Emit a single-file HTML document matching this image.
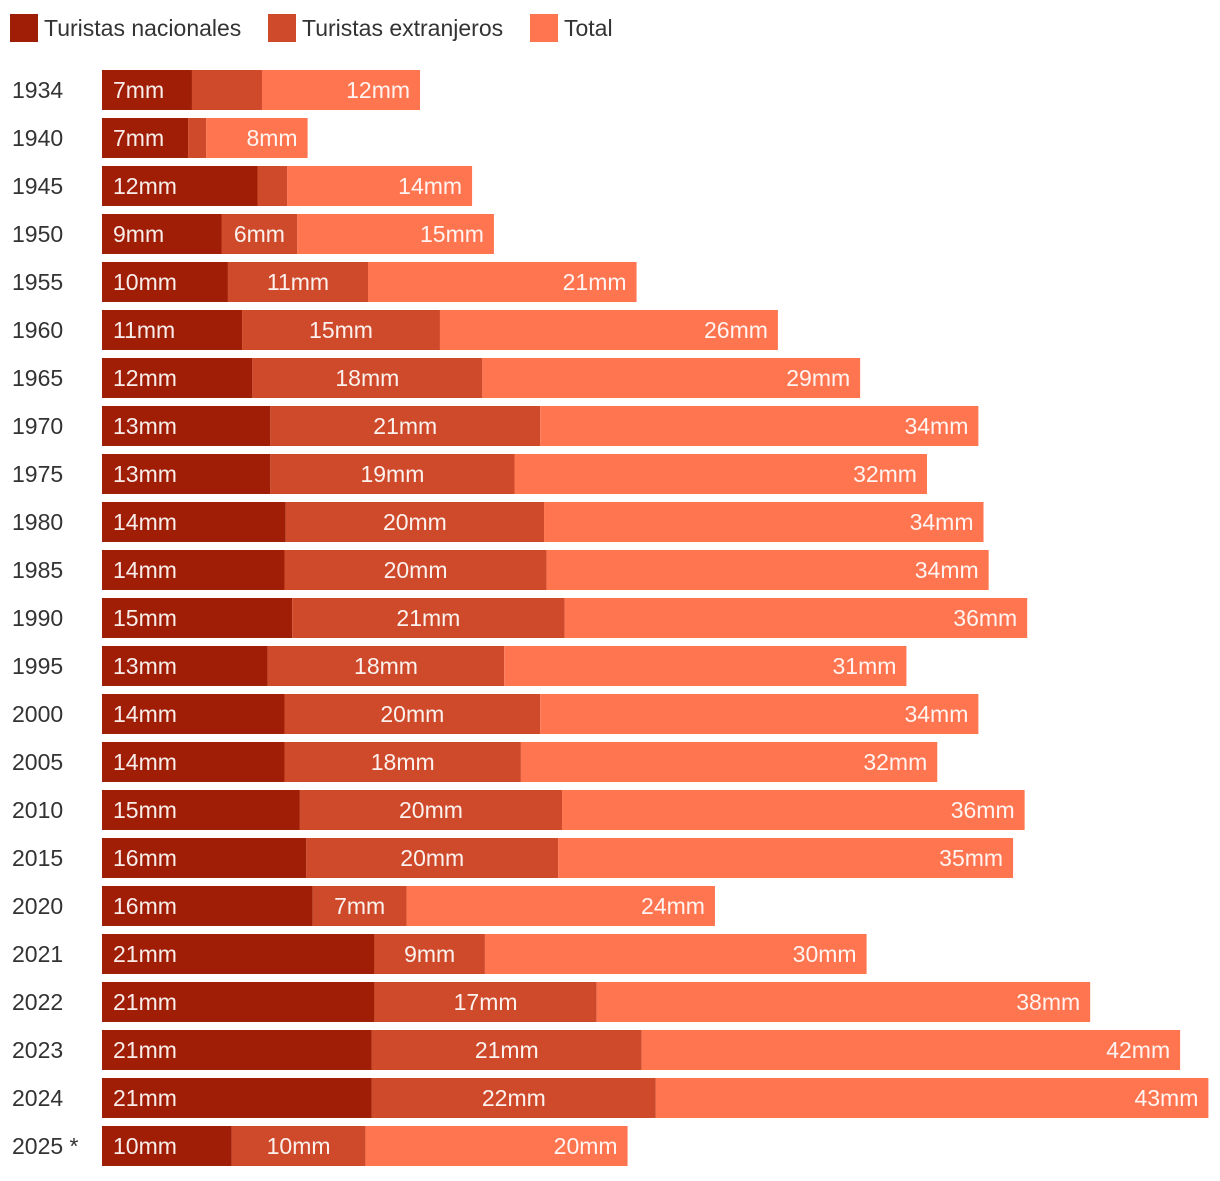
<!DOCTYPE html>
<html><head><meta charset="utf-8"><style>
body{margin:0;background:#fff;font-family:"Liberation Sans",sans-serif;}
svg text{font-family:"Liberation Sans",sans-serif;}
</style></head><body>
<svg id="chart" width="1220" height="1176">
<g>
<rect x="10" y="14" width="28" height="28" fill="#a01e06"/>
<text x="44" y="36" font-size="23" fill="#333">Turistas nacionales</text>
<rect x="268" y="14" width="28" height="28" fill="#cf4a2a"/>
<text x="302" y="36" font-size="23" fill="#333">Turistas extranjeros</text>
<rect x="530" y="14" width="28" height="28" fill="#ff7550"/>
<text x="564" y="36" font-size="23" fill="#333">Total</text>
</g>
</svg>
<script>
const years=["1934","1940","1945","1950","1955","1960","1965","1970","1975","1980","1985","1990","1995","2000","2005","2010","2015","2020","2021","2022","2023","2024","2025 *"];
const nacionales=[7.0,6.7,12.1,9.3,9.8,10.9,11.7,13.1,13.1,14.3,14.2,14.8,12.9,14.2,14.2,15.4,15.9,16.4,21.2,21.2,21.0,21.0,10.1];
const extranjeros=[5.45,1.4,2.3,5.9,10.9,15.4,17.9,21.0,19.0,20.1,20.4,21.2,18.4,19.9,18.4,20.4,19.6,7.3,8.6,17.3,21.0,22.1,10.4];
const totals=[12.3,7.9,14.4,15.3,20.9,26.3,29.4,34.1,32.1,34.2,34.4,36.0,31.3,34.1,32.4,36.0,35.4,24.0,29.7,38.4,41.9,43.0,20.4];
const svg=document.getElementById('chart');
const NS='http://www.w3.org/2000/svg';
const x0=102, k=12.85, top0=70, step=48, bh=40;
const xs=v=>v*k;
function mk(tag,attrs){const e=document.createElementNS(NS,tag);for(const a in attrs)e.setAttribute(a,attrs[a]);svg.appendChild(e);return e;}
years.forEach((yr,i)=>{
  const y=top0+i*step;
  const t=mk('text',{x:12,y:y+28,'font-size':23,fill:'#333'});t.textContent=yr;
  
  
  const vals=[nacionales[i],extranjeros[i],totals[i]];
  const cols=['#a01e06','#cf4a2a','#ff7550'];
  const names=['nacionales','extranjeros','total'];
  let x=x0;
  vals.forEach((v,j)=>{
    const w=xs(v);
    const r=mk('rect',{x:x,y:y,width:w,height:bh,fill:cols[j]});
    
    
    if(w>=73){
      let tx,anchor;
      if(j===0){tx=x+11;anchor='start';}else if(j===1){tx=x+w/2;anchor='middle';}else{tx=x+w-10;anchor='end';}
      const l=mk('text',{x:tx,y:y+28,'font-size':23,fill:'#fff','text-anchor':anchor,'fill-opacity':0.92});
      l.textContent=Math.round(v)+'mm';
      
      
    }
    x+=w;
  });
});
</script>
</body></html>
